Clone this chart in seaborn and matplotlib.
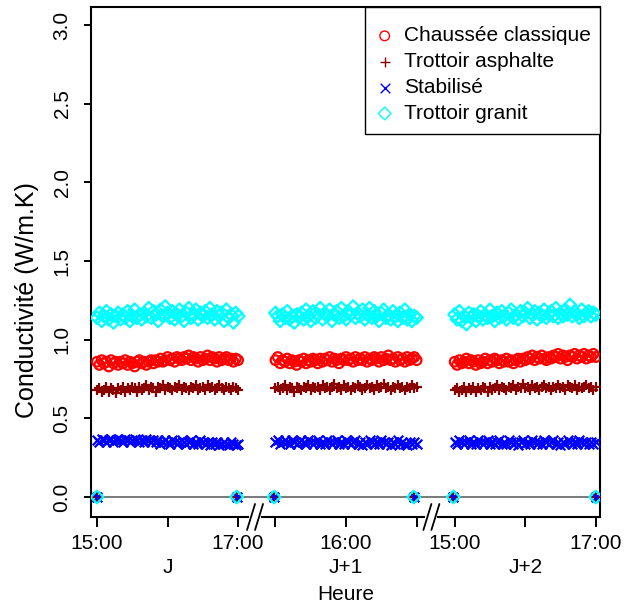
import numpy as np
import pandas as pd
import matplotlib
matplotlib.use("Agg")
import matplotlib.pyplot as plt
from matplotlib.patches import Rectangle
import seaborn as sns

# --- données (conductivité en W/m.K) ---
series_names = ["Chaussée classique", "Trottoir asphalte", "Stabilisé", "Trottoir granit"]
series_colors = ["#FF0000", "#8B0000", "#0000FF", "#00FFFF"]
series_markers = ["o", "+", "x", "D"]

day_labels = ["J", "J+1", "J+2"]
hour_labels = [["15:00", "", "17:00"], ["", "16:00", ""], ["15:00", "", "17:00"]]
day_offset = [0.0, 2.53, 5.07]   # position de 15:00 pour chaque jour (axe coupé)

# points à zéro en début / fin de chaque période (heures depuis 15:00)
zero_hours = [0.0, 1.98, -0.02, 1.96, -0.02, 2.0]
zero_days = [0, 0, 1, 1, 2, 2]

chaussee_j = [0.86, 0.84, 0.87, 0.85, 0.86, 0.83, 0.87, 0.85, 0.86, 0.84,
              0.86, 0.85, 0.87, 0.84, 0.86, 0.85, 0.83, 0.86, 0.87, 0.85,
              0.86, 0.84, 0.86, 0.87, 0.85, 0.87, 0.86, 0.88, 0.86, 0.87,
              0.89, 0.87, 0.88, 0.86, 0.89, 0.88, 0.87, 0.89, 0.88, 0.90,
              0.87, 0.89, 0.88, 0.86, 0.89, 0.87, 0.88, 0.90, 0.87, 0.89,
              0.88, 0.86, 0.89, 0.87, 0.88, 0.89, 0.87, 0.88, 0.86, 0.88, 0.87]
chaussee_j1 = [0.87, 0.89, 0.85, 0.87, 0.86, 0.88, 0.85, 0.87, 0.86, 0.84,
               0.87, 0.86, 0.88, 0.85, 0.87, 0.86, 0.88, 0.87, 0.85, 0.88,
               0.86, 0.88, 0.87, 0.89, 0.86, 0.88, 0.87, 0.85, 0.88, 0.87,
               0.89, 0.87, 0.88, 0.86, 0.89, 0.87, 0.88, 0.87, 0.89, 0.86,
               0.88, 0.87, 0.89, 0.88, 0.86, 0.89, 0.87, 0.88, 0.90, 0.87,
               0.88, 0.86, 0.89, 0.87, 0.88, 0.86, 0.89, 0.87, 0.88, 0.89, 0.87]
chaussee_j2 = [0.86, 0.84, 0.87, 0.85, 0.86, 0.88, 0.85, 0.87, 0.86, 0.84,
               0.87, 0.85, 0.86, 0.88, 0.85, 0.87, 0.86, 0.88, 0.87, 0.85,
               0.87, 0.86, 0.88, 0.86, 0.87, 0.85, 0.87, 0.88, 0.86, 0.88,
               0.87, 0.89, 0.88, 0.90, 0.87, 0.89, 0.88, 0.90, 0.88, 0.87,
               0.89, 0.88, 0.90, 0.89, 0.91, 0.88, 0.90, 0.89, 0.87, 0.90,
               0.89, 0.91, 0.88, 0.90, 0.89, 0.91, 0.88, 0.90, 0.89, 0.91, 0.89]

asphalte_j = [0.68, 0.69, 0.67, 0.68, 0.70, 0.67, 0.69, 0.68, 0.66, 0.69,
              0.68, 0.70, 0.67, 0.69, 0.68, 0.70, 0.69, 0.67, 0.70, 0.68,
              0.69, 0.71, 0.68, 0.70, 0.69, 0.67, 0.70, 0.69, 0.71, 0.68,
              0.70, 0.69, 0.68, 0.70, 0.69, 0.71, 0.68, 0.70, 0.69, 0.68,
              0.70, 0.69, 0.71, 0.68, 0.69, 0.70, 0.68, 0.71, 0.69, 0.70,
              0.68, 0.69, 0.71, 0.69, 0.68, 0.70, 0.69, 0.68, 0.70, 0.69, 0.68]
asphalte_j1 = [0.69, 0.70, 0.68, 0.69, 0.71, 0.68, 0.70, 0.69, 0.67, 0.70,
               0.69, 0.68, 0.70, 0.69, 0.71, 0.68, 0.70, 0.69, 0.70, 0.68,
               0.71, 0.69, 0.70, 0.68, 0.70, 0.72, 0.69, 0.70, 0.68, 0.71,
               0.69, 0.70, 0.68, 0.70, 0.69, 0.71, 0.70, 0.68, 0.69, 0.71,
               0.69, 0.70, 0.68, 0.71, 0.69, 0.70, 0.72, 0.69, 0.70, 0.68,
               0.70, 0.69, 0.71, 0.69, 0.70, 0.68, 0.70, 0.69, 0.71, 0.69, 0.70]
asphalte_j2 = [0.68, 0.69, 0.67, 0.68, 0.70, 0.67, 0.69, 0.68, 0.70, 0.67,
               0.69, 0.68, 0.70, 0.69, 0.67, 0.70, 0.68, 0.69, 0.71, 0.68,
               0.70, 0.69, 0.68, 0.70, 0.69, 0.71, 0.68, 0.70, 0.69, 0.72,
               0.69, 0.70, 0.68, 0.71, 0.69, 0.70, 0.68, 0.70, 0.71, 0.69,
               0.70, 0.68, 0.70, 0.69, 0.71, 0.69, 0.70, 0.68, 0.71, 0.70,
               0.69, 0.71, 0.68, 0.70, 0.69, 0.70, 0.71, 0.69, 0.70, 0.68, 0.70]

stabilise_j = [0.36, 0.35, 0.37, 0.36, 0.35, 0.36, 0.37, 0.35, 0.36, 0.37,
               0.36, 0.35, 0.37, 0.36, 0.35, 0.36, 0.37, 0.36, 0.35, 0.36,
               0.35, 0.37, 0.36, 0.35, 0.36, 0.35, 0.36, 0.34, 0.35, 0.36,
               0.35, 0.34, 0.36, 0.35, 0.34, 0.35, 0.36, 0.35, 0.34, 0.35,
               0.36, 0.34, 0.35, 0.34, 0.36, 0.35, 0.34, 0.35, 0.33, 0.35,
               0.34, 0.35, 0.33, 0.34, 0.35, 0.34, 0.33, 0.35, 0.34, 0.33, 0.34]
stabilise_j1 = [0.35, 0.36, 0.34, 0.35, 0.36, 0.35, 0.34, 0.36, 0.35, 0.34,
                0.35, 0.36, 0.35, 0.34, 0.36, 0.35, 0.34, 0.35, 0.36, 0.34,
                0.35, 0.34, 0.36, 0.35, 0.34, 0.35, 0.36, 0.34, 0.35, 0.34,
                0.36, 0.35, 0.34, 0.35, 0.36, 0.34, 0.35, 0.33, 0.35, 0.34,
                0.36, 0.35, 0.34, 0.35, 0.34, 0.36, 0.35, 0.34, 0.35, 0.33,
                0.35, 0.34, 0.36, 0.34, 0.35, 0.34, 0.33, 0.35, 0.34, 0.35, 0.34]
stabilise_j2 = [0.35, 0.34, 0.36, 0.35, 0.34, 0.35, 0.36, 0.34, 0.35, 0.34,
                0.36, 0.35, 0.34, 0.35, 0.36, 0.34, 0.35, 0.34, 0.35, 0.36,
                0.34, 0.35, 0.34, 0.36, 0.35, 0.34, 0.35, 0.33, 0.35, 0.36,
                0.34, 0.35, 0.34, 0.36, 0.35, 0.34, 0.35, 0.34, 0.36, 0.35,
                0.34, 0.35, 0.36, 0.34, 0.35, 0.33, 0.35, 0.34, 0.36, 0.35,
                0.34, 0.35, 0.34, 0.36, 0.35, 0.34, 0.35, 0.34, 0.35, 0.34, 0.35]

granit_j = [1.14, 1.17, 1.12, 1.15, 1.18, 1.13, 1.16, 1.11, 1.15, 1.17,
            1.13, 1.16, 1.14, 1.18, 1.12, 1.15, 1.19, 1.14, 1.16, 1.13,
            1.17, 1.15, 1.20, 1.14, 1.18, 1.16, 1.12, 1.19, 1.15, 1.21,
            1.17, 1.14, 1.18, 1.13, 1.16, 1.19, 1.15, 1.12, 1.17, 1.20,
            1.14, 1.16, 1.19, 1.13, 1.17, 1.15, 1.18, 1.14, 1.20, 1.16,
            1.13, 1.18, 1.15, 1.17, 1.12, 1.19, 1.14, 1.16, 1.11, 1.17, 1.15]
granit_j1 = [1.17, 1.15, 1.12, 1.16, 1.14, 1.18, 1.13, 1.15, 1.11, 1.16,
             1.14, 1.17, 1.13, 1.19, 1.15, 1.12, 1.18, 1.14, 1.16, 1.20,
             1.13, 1.17, 1.15, 1.19, 1.12, 1.16, 1.18, 1.14, 1.20, 1.15,
             1.13, 1.18, 1.16, 1.21, 1.14, 1.17, 1.15, 1.19, 1.13, 1.16,
             1.20, 1.14, 1.18, 1.15, 1.12, 1.17, 1.19, 1.14, 1.16, 1.13,
             1.18, 1.15, 1.12, 1.17, 1.14, 1.19, 1.13, 1.16, 1.12, 1.15, 1.14]
granit_j2 = [1.16, 1.13, 1.18, 1.12, 1.15, 1.10, 1.17, 1.14, 1.16, 1.12,
             1.15, 1.18, 1.13, 1.16, 1.14, 1.19, 1.15, 1.12, 1.17, 1.14,
             1.18, 1.15, 1.13, 1.17, 1.19, 1.14, 1.16, 1.13, 1.18, 1.15,
             1.17, 1.20, 1.14, 1.16, 1.18, 1.13, 1.17, 1.15, 1.19, 1.14,
             1.16, 1.18, 1.15, 1.20, 1.14, 1.17, 1.15, 1.19, 1.16, 1.22,
             1.15, 1.18, 1.16, 1.14, 1.19, 1.15, 1.17, 1.18, 1.15, 1.17, 1.16]

values = {
    "Chaussée classique": [chaussee_j, chaussee_j1, chaussee_j2],
    "Trottoir asphalte": [asphalte_j, asphalte_j1, asphalte_j2],
    "Stabilisé": [stabilise_j, stabilise_j1, stabilise_j2],
    "Trottoir granit": [granit_j, granit_j1, granit_j2],
}

# table longue
rows = []
for name in series_names:
    for d, vals in enumerate(values[name]):
        hours = np.linspace(0, 2, len(vals))
        for h, v in zip(hours, vals):
            rows.append((name, d, day_offset[d] + h, v))
    for h, d in zip(zero_hours, zero_days):
        rows.append((name, d, day_offset[d] + h, 0.0))
df = pd.DataFrame(rows, columns=["serie", "jour", "x", "conductivite"])

sns.set_theme(style="white")
plt.rcParams['font.family'] = ['Liberation Sans', 'DejaVu Sans']
plt.rcParams['text.color'] = 'black'
plt.rcParams['axes.labelcolor'] = 'black'
plt.rcParams['xtick.color'] = 'black'
plt.rcParams['ytick.color'] = 'black'

fig = plt.figure(figsize=(6.34, 6.05), dpi=100)
ax = fig.add_axes([91 / 634, 1 - 517 / 605, 509 / 634, 510 / 605])

ax.axhline(0, color="#6e6e6e", lw=1.3, zorder=1)

for name, col, mk in zip(series_names, series_colors, series_markers):
    sub = df[df["serie"] == name]
    kw = dict(marker=mk, color=col, s=48 if mk != "D" else 42, linewidth=1.6,
              label=name, ax=ax, zorder=3)
    if mk in ("o", "D"):
        kw.update(facecolor="none", edgecolor=col)
    sns.scatterplot(data=sub, x="x", y="conductivite", **kw)

ax.set_xlim(-0.085, 7.13)
ax.set_ylim(-0.127, 3.115)

# ticks
xt, xl = [], []
for d in range(3):
    for i in range(3):
        xt.append(day_offset[d] + i)
        lab = hour_labels[d][i]
        if i == 1:
            lab = lab + "\n" + day_labels[d]
        xl.append(lab)
ax.set_xticks(xt)
ax.set_xticklabels(xl, fontsize=15, linespacing=1.35, va="top")
yt = np.arange(0, 3.01, 0.5)
ax.set_yticks(yt)
ax.set_yticklabels([f"{v:.1f}" for v in yt], fontsize=15, rotation=90, va="center")
ax.tick_params(axis="x", length=7, width=1.4, pad=5, bottom=True, direction="out")
ax.tick_params(axis="y", length=5, width=1.4, pad=9, left=True, direction="out")

for sp in ax.spines.values():
    sp.set_color("black")
    sp.set_linewidth(1.5)

ax.set_xlabel("Heure", fontsize=15)
ax.xaxis.set_label_coords(0.5, -0.133)
ax.set_ylabel("Conductivité (W/m.K)", fontsize=18)
ax.yaxis.set_label_coords(-0.103, 0.425)

# coupures de l'axe
px_x = 509 / 7.215
px_y = 510 / 3.242
for xb in [2.24, 4.74]:
    dx = 4 / px_x
    dy = 13 / px_y
    yb = -0.127
    ax.plot([xb - dx, xb + dx], [yb, yb], color="white", lw=3, clip_on=False, zorder=6)
    for s in (-1, 1):
        xc = xb + s * 4 / px_x
        ax.plot([xc - dx, xc + dx], [yb - dy, yb + dy], color="black", lw=1.3,
                clip_on=False, zorder=7)

# légende (cadre dessiné à part)
ax.add_patch(Rectangle(((365 - 91) / 509, (517 - 134) / 510), 235 / 509, 127 / 510,
                       transform=ax.transAxes, facecolor="white", edgecolor="black",
                       lw=1.0, zorder=8, clip_on=False))
leg = ax.legend(loc="upper left", bbox_to_anchor=((358 - 91) / 509, 0.994), frameon=False,
                borderaxespad=0, fontsize=15, handlelength=1.0, handletextpad=0.42,
                borderpad=0.78, labelspacing=0.33, scatterpoints=1)
for h in leg.legend_handles:
    h.set_linewidth(1.0)
leg.set_zorder(9)

fig.savefig("out.png", dpi=100)
